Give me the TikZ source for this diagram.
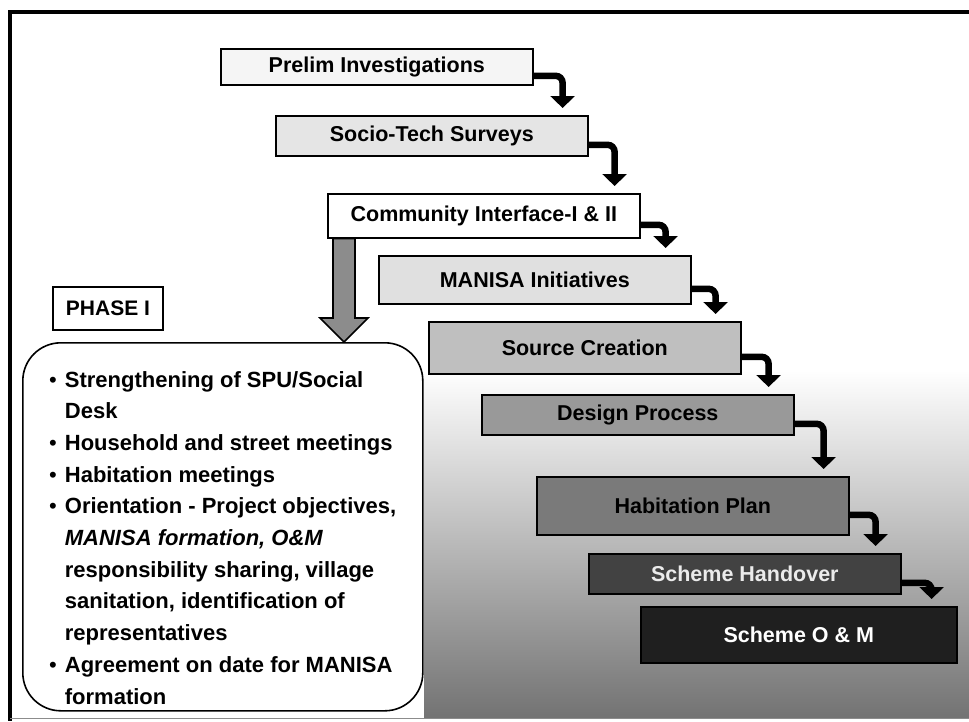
\documentclass[tikz,border=0pt]{standalone}
\usepackage{fontspec}
\setmainfont{Liberation Sans}
\usetikzlibrary{arrows.meta,calc}

\begin{document}
\begin{tikzpicture}[x=1pt,y=-1pt,
  stage/.style={draw=black, line width=1.6pt, minimum width=312pt, inner sep=0pt,
    anchor=north west, font=\fontsize{21.5}{24}\selectfont\bfseries},
  flow/.style={draw=black, line width=6.5pt, rounded corners=7pt,
    -{Triangle[width=24pt,length=12pt]}},
  outline/.style={draw=black, line width=1.6pt},
]
\useasboundingbox (0,0) rectangle (969,721);

% shaded backdrop behind the lower stages
\shade[top color=white, middle color=black!30, bottom color=black!55] (424,370) rectangle (969,718);

% frame
\draw[line width=4.5pt] (969,12) -- (10,12) -- (10,721);
\draw[line width=0.8pt, black!45] (10,718) -- (969,718);

% stages of the staircase
\node[stage, fill=black!4,  minimum height=36pt] (b1) at (220,48)  {Prelim Investigations};
\node[stage, fill=black!10, minimum height=40pt] (b2) at (275,115) {Socio-Tech Surveys};
\node[stage, fill=white,    minimum height=44pt] (b3) at (327,193) {Community Interface-I \& II};
\node[stage, fill=black!12, minimum height=48pt] (b4) at (378,255) {MANISA Initiatives};
\node[stage, fill=black!25, minimum height=52pt] (b5) at (428,321) {Source Creation};
\node[stage, fill=black!40, minimum height=40pt] (b6) at (481,394) {Design Process};
\node[stage, fill=black!52, minimum height=58pt] (b7) at (536,476) {Habitation Plan};
\node[stage, fill=black!74, minimum height=40pt, text=white!92!black] (b8) at (588,553) {Scheme Handover};
\node[stage, fill=black!88, minimum height=56pt, minimum width=316pt, text=white] (b9) at (640,606) {Scheme O \& M};

% bent connectors between stages
\foreach \a/\b in {b1/b2, b2/b3, b3/b4, b4/b5, b5/b6, b6/b7, b7/b8, b8/b9}
  \draw[flow] ([yshift=-9pt]\a.east) -| ([xshift=-26pt,yshift=7pt]\b.north east);

% phase label and activity list
\node[outline, fill=white, minimum width=110pt, minimum height=43pt, inner sep=0pt,
  font=\fontsize{21}{24}\selectfont\bfseries] (phase) at (108,308.5) {PHASE I};

\node[outline, fill=white, rounded corners=38pt, minimum width=400pt, minimum height=368pt,
  anchor=north west, inner sep=0pt] (list) at (22,342) {};

\node[anchor=base west, inner sep=0pt, font=\fontsize{22}{31.7}\selectfont\bfseries]
  (items) at (49,387) {%
  \begin{tabular}[t]{@{}l@{\hspace{8pt}}l@{}}
  {\mdseries\textbullet} & Strengthening of SPU/Social\\
   & Desk\\
  {\mdseries\textbullet} & Household and street meetings\\
  {\mdseries\textbullet} & Habitation meetings\\
  {\mdseries\textbullet} & Orientation - Project objectives,\\
   & \textit{MANISA formation, O\&M}\\
   & responsibility sharing, village\\
   & sanitation, identification of\\
   & representatives\\
  {\mdseries\textbullet} & Agreement on date for MANISA\\
   & formation
  \end{tabular}};

% broad arrow from the community stage down to the list
\coordinate (atop) at ([xshift=17pt]b3.south west);
\coordinate (abot) at (atop |- list.north);
\draw[outline, fill=black!45]
  ($(atop)+(-11,0)$) -- ($(atop)+(11,0)$) -- ($(abot)+(11,-24)$) -- ($(abot)+(24,-24)$)
  -- (abot) -- ($(abot)+(-24,-24)$) -- ($(abot)+(-11,-24)$) -- cycle;
\end{tikzpicture}
\end{document}
